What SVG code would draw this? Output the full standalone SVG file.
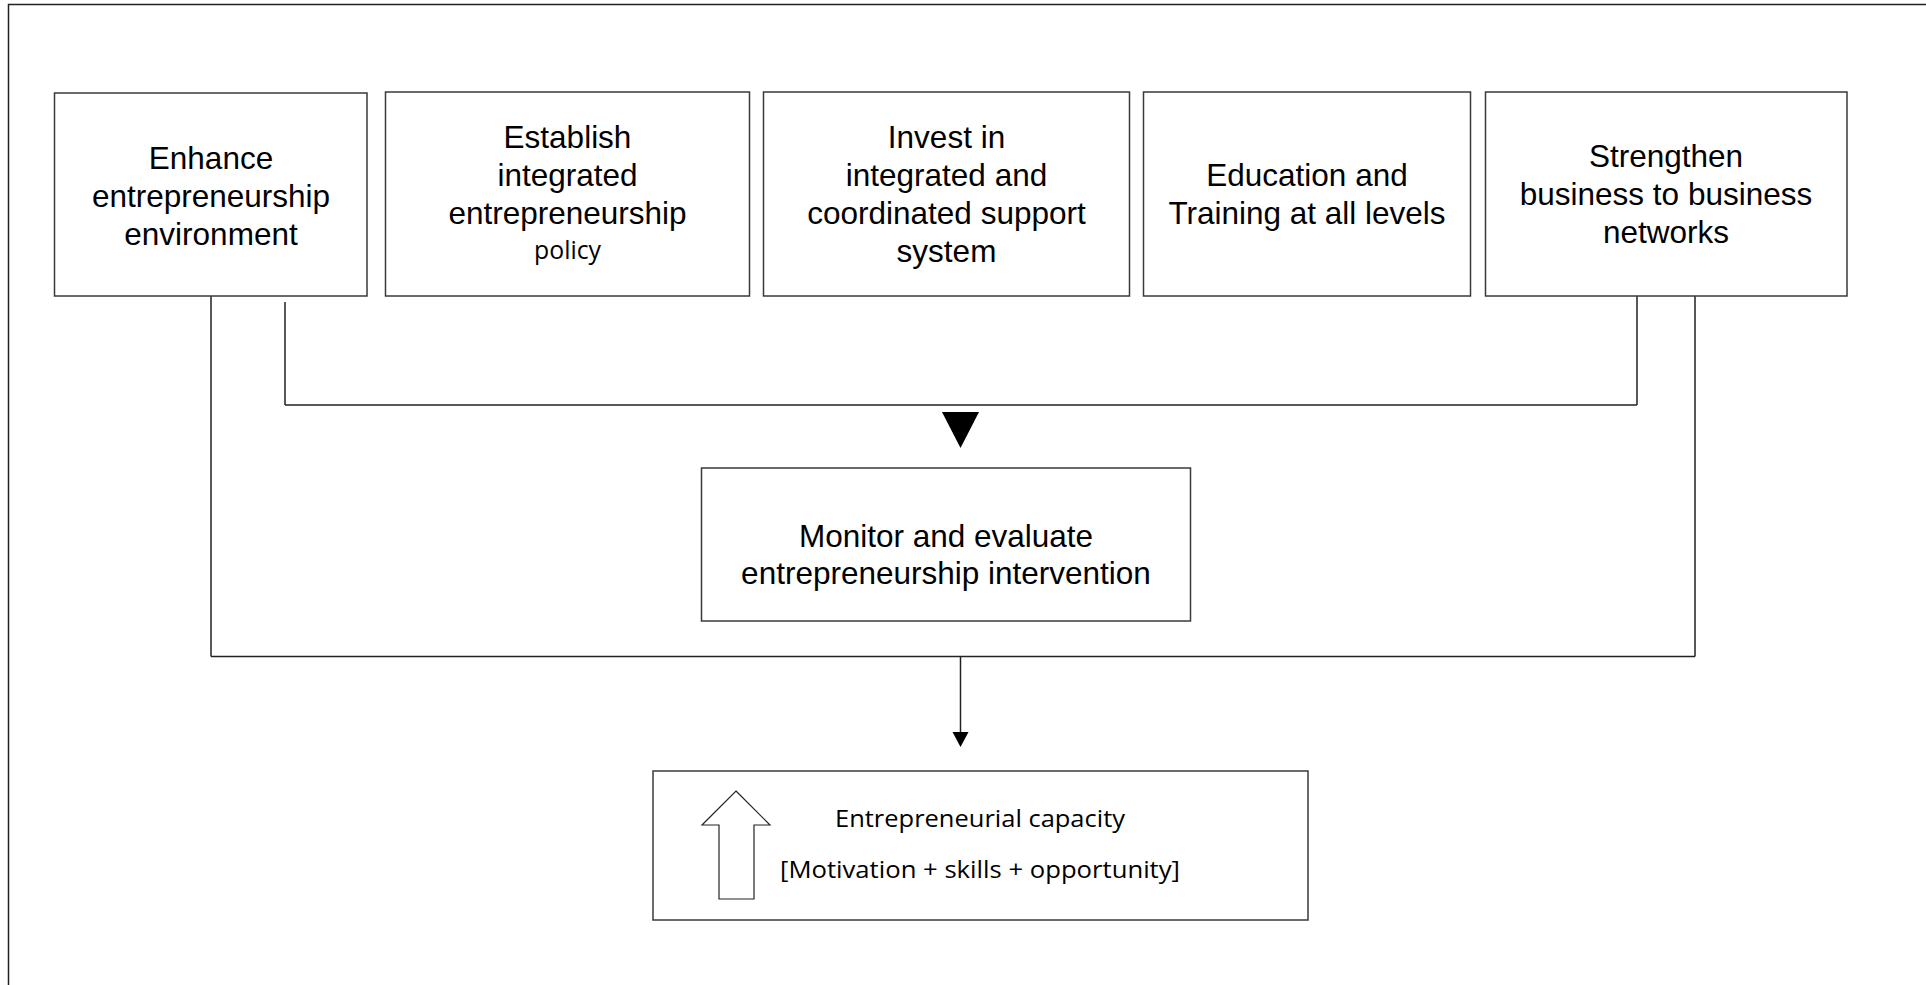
<svg xmlns="http://www.w3.org/2000/svg" width="1926" height="985" viewBox="0 0 1926 985">
<style>
.box{fill:#fff;stroke:#3a3a3a;stroke-width:1.5}
.t{font-family:"Liberation Sans",Arial,sans-serif;font-size:31.5px;fill:#000;text-anchor:middle}
.c{font-family:"Open Sans",Lato,sans-serif;fill:#000;text-anchor:middle}
.ln{fill:none;stroke:#222;stroke-width:1.5}
</style>
<rect width="1926" height="985" fill="#fff"/>
<path d="M8.5,985 V4.5 H1926" fill="none" stroke="#222" stroke-width="1.5"/>

<g id="connectors">
<path class="ln" d="M285,302 V405 M1637,296 V405 M285,405 H1637"/>
<path d="M942,412 L979,412 L960.5,448 Z" fill="#000"/>
<path class="ln" d="M211,296 V656.5 M1695,296 V656.5 M211,656.5 H1695"/>
<path class="ln" d="M960.5,656.5 V732"/>
<path d="M952.5,732 L968.5,732 L960.5,747 Z" fill="#000"/>
</g>

<g id="n1">
<rect class="box" x="54.5" y="93" width="312.5" height="203"/>
<text class="t" x="211" y="169">Enhance</text>
<text class="t" x="211" y="207">entrepreneurship</text>
<text class="t" x="211" y="245">environment</text>
</g>
<g id="n2">
<rect class="box" x="385.5" y="92" width="364" height="204"/>
<text class="t" x="567.5" y="148">Establish</text>
<text class="t" x="567.5" y="186">integrated</text>
<text class="t" x="567.5" y="224">entrepreneurship</text>
<text class="c" x="567.5" y="259" font-size="26" textLength="67" lengthAdjust="spacingAndGlyphs">policy</text>
</g>
<g id="n3">
<rect class="box" x="763.5" y="92" width="366" height="204"/>
<text class="t" x="946.5" y="148">Invest in</text>
<text class="t" x="946.5" y="186">integrated and</text>
<text class="t" x="946.5" y="224">coordinated support</text>
<text class="t" x="946.5" y="262">system</text>
</g>
<g id="n4">
<rect class="box" x="1143.5" y="92" width="327" height="204"/>
<text class="t" x="1307" y="186">Education and</text>
<text class="t" x="1307" y="224">Training at all levels</text>
</g>
<g id="n5">
<rect class="box" x="1485.5" y="92" width="361.5" height="204"/>
<text class="t" x="1666" y="167">Strengthen</text>
<text class="t" x="1666" y="205">business to business</text>
<text class="t" x="1666" y="243">networks</text>
</g>
<g id="n6">
<rect class="box" x="701.5" y="468" width="489" height="153"/>
<text class="t" x="946" y="547">Monitor and evaluate</text>
<text class="t" x="946" y="584">entrepreneurship intervention</text>
</g>
<g id="n7">
<rect class="box" x="653" y="771" width="655" height="149"/>
<path d="M736,791 L770,825 L754,825 L754,899 L719,899 L719,825 L702,825 Z" fill="#fff" stroke="#222" stroke-width="1.2"/>
<text class="c" x="980" y="827" font-size="24" textLength="290" lengthAdjust="spacingAndGlyphs">Entrepreneurial capacity</text>
<text class="c" x="980" y="878" font-size="24" textLength="400" lengthAdjust="spacingAndGlyphs">[Motivation + skills + opportunity]</text>
</g>
</svg>
